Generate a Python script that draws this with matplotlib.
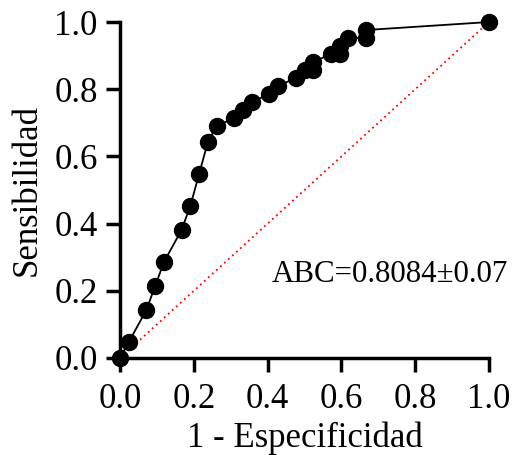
import matplotlib
matplotlib.use('Agg')
import matplotlib.pyplot as plt

# ROC points, counts out of 42 negatives / 42 positives
n_neg = 42
n_pos = 42
fp_counts = [0, 1, 3, 4, 5, 7, 8, 9, 10, 11, 13, 14, 15, 17, 18, 20, 21, 22, 22, 24, 25, 25, 26, 28, 28, 42]
tp_counts = [0, 2, 6, 9, 12, 16, 19, 23, 27, 29, 30, 31, 32, 33, 34, 35, 36, 36, 37, 38, 38, 39, 40, 40, 41, 42]
auc_text = 'ABC=0.8084±0.07'

fpr = [c / n_neg for c in fp_counts]
tpr = [c / n_pos for c in tp_counts]

plt.rcParams['font.family'] = ['Liberation Serif', 'DejaVu Serif']

fig = plt.figure(figsize=(5.16, 4.55), dpi=100)
ax = fig.add_axes([0.2326, 0.2132, 0.7151, 0.7384])

ax.plot([0, 1], [0, 1], color='red', linestyle=(0, (1, 2)), linewidth=1.3, clip_on=False)
ax.plot(fpr, tpr, color='black', linewidth=1.3, marker='o', markersize=11.5,
        clip_on=False, zorder=3)

ax.set_xlim(0, 1)
ax.set_ylim(0, 1)
ticks = [0.0, 0.2, 0.4, 0.6, 0.8, 1.0]
ax.set_xticks(ticks)
ax.set_yticks(ticks)
ax.set_xticklabels([f'{t:.1f}' for t in ticks])
ax.set_yticklabels([f'{t:.1f}' for t in ticks])

for s in ['top', 'right']:
    ax.spines[s].set_visible(False)
for s in ['left', 'bottom']:
    ax.spines[s].set_linewidth(2.5)
ax.tick_params(axis='both', length=10, width=2.5, labelsize=25)
ax.tick_params(axis='x', pad=8)
ax.tick_params(axis='y', pad=6)

ax.set_xlabel('1 - Especificidad', fontsize=25, labelpad=4)
ax.set_ylabel('Sensibilidad', fontsize=25, labelpad=8)

ax.text(0.412, 0.226, auc_text, fontsize=22.3, transform=ax.transData)

fig.savefig('out.png', dpi=100)
